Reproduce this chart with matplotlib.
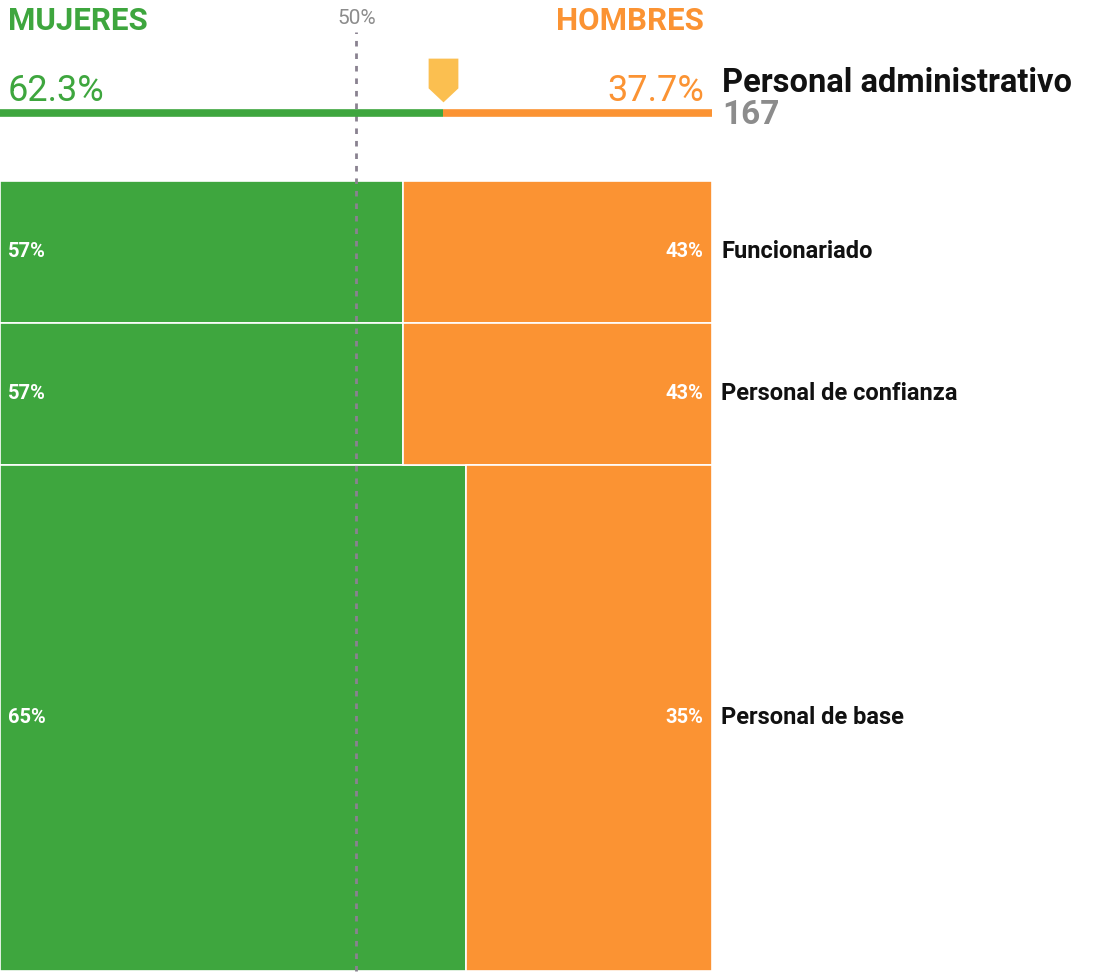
import numpy as np
import matplotlib
matplotlib.use("Agg")
import matplotlib.pyplot as plt
from matplotlib.path import Path

# data
categorias = ["Funcionariado", "Personal de confianza", "Personal de base"]
mujeres = np.array([17, 17, 70])
hombres = np.array([13, 13, 37])
titulo = "Personal administrativo"

GREEN = "#3ea63e"
ORANGE = "#fb9333"
YELLOW = "#fbbf50"
GRAY = "#8c8c8c"

W, H = 1095, 973
plt.rcParams["font.family"] = ["Roboto", "DejaVu Sans"]

total = mujeres + hombres
pct_m = mujeres / total
n_total = total.sum()
pct_total_m = mujeres.sum() / n_total
pct_total_h = hombres.sum() / n_total

fig = plt.figure(figsize=(W / 100, H / 100), dpi=100)

def fx(px):
    return px / W

def fy(py):
    return 1 - py / H

# main marimekko axes
ax = fig.add_axes([0, fy(971), fx(712), fy(181) - fy(971)])
ax.set_xlim(0, 1)
ax.set_ylim(n_total, 0)
ax.axis("off")

tops = np.concatenate([[0], np.cumsum(total)[:-1]])
ax.barh(tops, pct_m, height=total, align="edge", color=GREEN,
        edgecolor="white", linewidth=1.2)
ax.barh(tops, 1 - pct_m, left=pct_m, height=total, align="edge",
        color=ORANGE, edgecolor="white", linewidth=1.2)

for t, n, pm, name in zip(tops, total, pct_m, categorias):
    yc = t + n / 2
    ax.text(0.011, yc, f"{round(pm * 100):.0f}%", color="white",
            fontsize=14.5, fontweight="bold", va="center", ha="left")
    ax.text(0.988, yc, f"{round((1 - pm) * 100):.0f}%", color="white",
            fontsize=14.5, fontweight="bold", va="center", ha="right")
    ax.text(1.013, yc, name, color="#111111", fontsize=17,
            fontweight="bold", va="center", ha="left")

# 50% reference line
line_top = 32
frac = (971 - line_top) / (971 - 181)
ax.axvline(0.5, ymin=0, ymax=frac, color="#8a8290", linewidth=2,
           linestyle=(0, (2, 2.5)), clip_on=False, zorder=5)

# header axes with the summary line
axh = fig.add_axes([0, fy(130), fx(712), fy(50) - fy(130)])
axh.set_xlim(0, 1)
axh.set_ylim(80, 0)
axh.axis("off")
axh.plot([0, pct_total_m], [63, 63], color=GREEN, linewidth=5.5,
         solid_capstyle="butt")
axh.plot([pct_total_m, 1], [63, 63], color=ORANGE, linewidth=5.5,
         solid_capstyle="butt")
marker = Path([(-0.68, 1), (0.68, 1), (0.68, -0.36), (0, -1),
               (-0.68, -0.36), (-0.68, 1)],
              [Path.MOVETO, Path.LINETO, Path.LINETO, Path.LINETO,
               Path.LINETO, Path.CLOSEPOLY])
axh.plot([pct_total_m], [30], marker=marker, markersize=31.5,
         color=YELLOW, markeredgewidth=0, linestyle="none")

# header texts
fig.text(fx(8), fy(30), "MUJERES", color=GREEN, fontsize=22.5,
         fontweight="bold", ha="left", va="baseline")
fig.text(fx(704), fy(30), "HOMBRES", color=ORANGE, fontsize=22.5,
         fontweight="bold", ha="right", va="baseline")
fig.text(fx(357), fy(24), "50%", color=GRAY, fontsize=15,
         ha="center", va="baseline")
fig.text(fx(8), fy(101), f"{pct_total_m * 100:.1f}%", color=GREEN,
         fontsize=26, ha="left", va="baseline")
fig.text(fx(704), fy(101), f"{pct_total_h * 100:.1f}%", color=ORANGE,
         fontsize=26, ha="right", va="baseline")
fig.text(fx(722), fy(92), titulo, color="#111111", fontsize=23.5,
         fontweight="bold", ha="left", va="baseline")
fig.text(fx(722), fy(124), f"{n_total}", color=GRAY, fontsize=24,
         fontweight="bold", ha="left", va="baseline")

fig.savefig("out.png", dpi=100, facecolor="white")
